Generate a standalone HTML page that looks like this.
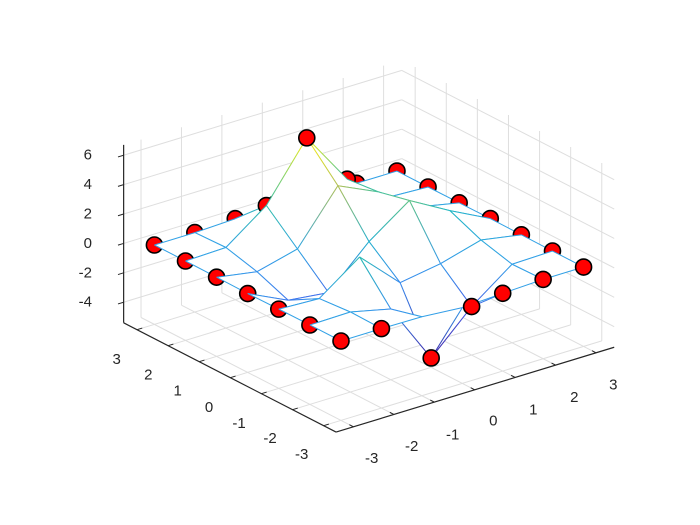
<!DOCTYPE html>
<html><head><meta charset="utf-8"><style>
html,body{margin:0;padding:0;background:#fff;}
svg{display:block;}
text{font-family:"Liberation Sans","DejaVu Sans",sans-serif;font-size:15px;fill:#262626;}
</style></head><body>
<svg id="s" width="700" height="525" viewBox="0 0 700 525" xmlns="http://www.w3.org/2000/svg">
<defs id="defs"></defs>
<rect width="700" height="525" fill="#fff"/>
<g id="grid"></g>
<g id="axes"></g>
<g id="mesh"></g>
<g id="labels">
<text x="371.7" y="458.3" text-anchor="middle" dominant-baseline="central">-3</text>
<text x="411.7" y="446.7" text-anchor="middle" dominant-baseline="central">-2</text>
<text x="452.7" y="435" text-anchor="middle" dominant-baseline="central">-1</text>
<text x="493.3" y="421" text-anchor="middle" dominant-baseline="central">0</text>
<text x="533.3" y="410" text-anchor="middle" dominant-baseline="central">1</text>
<text x="574.3" y="397.7" text-anchor="middle" dominant-baseline="central">2</text>
<text x="613.3" y="385" text-anchor="middle" dominant-baseline="central">3</text>
<text x="116.7" y="359.3" text-anchor="middle" dominant-baseline="central">3</text>
<text x="148.3" y="375" text-anchor="middle" dominant-baseline="central">2</text>
<text x="177.7" y="391" text-anchor="middle" dominant-baseline="central">1</text>
<text x="209" y="407.3" text-anchor="middle" dominant-baseline="central">0</text>
<text x="239" y="423.3" text-anchor="middle" dominant-baseline="central">-1</text>
<text x="270" y="438.3" text-anchor="middle" dominant-baseline="central">-2</text>
<text x="301.7" y="454.3" text-anchor="middle" dominant-baseline="central">-3</text>
<text x="92" y="155.2" text-anchor="end" dominant-baseline="central">6</text>
<text x="92" y="184.6" text-anchor="end" dominant-baseline="central">4</text>
<text x="92" y="214" text-anchor="end" dominant-baseline="central">2</text>
<text x="92" y="243.4" text-anchor="end" dominant-baseline="central">0</text>
<text x="92" y="272.8" text-anchor="end" dominant-baseline="central">-2</text>
<text x="92" y="302.2" text-anchor="end" dominant-baseline="central">-4</text>
</g>
</svg>
<script>
(function(){
var NS="http://www.w3.org/2000/svg";
function P(x,y,z){return [341+40.43*(x+3)-31.1*(y+3), 341-12.33*(x+3)-16*(y+3)-14.7*z];}
var xlo=-3.43,xhi=3.45,ylo=-3.4,yhi=3.43,zlo=-5.4,zhi=6.7;
function el(parent,tag,attrs){var e=document.createElementNS(NS,tag);for(var k in attrs)e.setAttribute(k,attrs[k]);parent.appendChild(e);return e;}
function line(g,a,b,col,w){el(g,"line",{x1:a[0].toFixed(2),y1:a[1].toFixed(2),x2:b[0].toFixed(2),y2:b[1].toFixed(2),stroke:col,"stroke-width":w});}
var defs=document.getElementById("defs"),grid=document.getElementById("grid"),axes=document.getElementById("axes"),mesh=document.getElementById("mesh");
var gc="#dedede";
for(var t=-3;t<=3;t++){
  line(grid,P(t,ylo,zlo),P(t,yhi,zlo),gc,1);
  line(grid,P(xlo,t,zlo),P(xhi,t,zlo),gc,1);
  line(grid,P(t,yhi,zlo),P(t,yhi,zhi),gc,1);
  line(grid,P(xhi,t,zlo),P(xhi,t,zhi),gc,1);
}
for(var z=-4;z<=6;z+=2){
  line(grid,P(xlo,yhi,z),P(xhi,yhi,z),gc,1);
  line(grid,P(xhi,ylo,z),P(xhi,yhi,z),gc,1);
}
var ac="#262626";
line(axes,P(xlo,ylo,zlo),P(xhi,ylo,zlo),ac,1.2);
line(axes,P(xlo,ylo,zlo),P(xlo,yhi,zlo),ac,1.2);
line(axes,P(xlo,yhi,zlo),P(xlo,yhi,zhi),ac,1.2);
for(var t=-3;t<=3;t++){
  line(axes,P(t,ylo,zlo),P(t,ylo+0.13,zlo),ac,1);
  line(axes,P(xlo,t,zlo),P(xlo+0.13,t,zlo),ac,1);
}
for(var z=-4;z<=6;z+=2){line(axes,P(xlo,yhi,z),P(xlo-0.14,yhi,z),ac,1);}
function peaks(x,y){return 3*(1-x)*(1-x)*Math.exp(-x*x-(y+1)*(y+1))-10*(x/5-x*x*x-Math.pow(y,5))*Math.exp(-x*x-y*y)-1/3*Math.exp(-(x+1)*(x+1)-y*y);}
var Z=[],zmin=1e9,zmax=-1e9;
for(var i=0;i<7;i++){Z[i]=[];for(var j=0;j<7;j++){var v=peaks(i-3,j-3);Z[i][j]=v;if(v<zmin)zmin=v;if(v>zmax)zmax=v;}}
var stops=[[0,[62,38,168]],[0.2,[75,80,225]],[0.35,[60,130,240]],[0.45,[50,162,230]],[0.6,[30,186,190]],[0.72,[90,195,140]],[0.85,[240,190,50]],[1,[249,240,20]]];
function cmap(v){var t=(v-zmin)/(zmax-zmin);t=Math.max(0,Math.min(1,t));
  for(var k=1;k<stops.length;k++){if(t<=stops[k][0]){var a=stops[k-1],b=stops[k],f=(t-a[0])/(b[0]-a[0]);
    return "rgb("+[0,1,2].map(function(c){return Math.round(a[1][c]+f*(b[1][c]-a[1][c]));}).join(",")+")";}}
  return "rgb(249,240,20)";}
var gid=0;
function gline(pa,pb,za,zb){
  var id="g"+(gid++);
  var lg=el(defs,"linearGradient",{id:id,gradientUnits:"userSpaceOnUse",x1:pa[0].toFixed(2),y1:pa[1].toFixed(2),x2:pb[0].toFixed(2),y2:pb[1].toFixed(2)});
  el(lg,"stop",{offset:"0","stop-color":cmap(za)});
  el(lg,"stop",{offset:"1","stop-color":cmap(zb)});
  var col=(Math.abs(pa[0]-pb[0])<0.01&&Math.abs(pa[1]-pb[1])<0.01)?cmap(za):"url(#"+id+")";
  line(mesh,pa,pb,col,1);
}
function depth(x,y,z){return 46.6*(0.61*x+0.79*y)-6.2*z;}
var items=[];
for(var i=0;i<6;i++)for(var j=0;j<6;j++){
  var vs=[[i,j],[i+1,j],[i+1,j+1],[i,j+1]];
  var d=0;vs.forEach(function(v){d+=depth(v[0]-3,v[1]-3,Z[v[0]][v[1]]);});
  items.push({t:"f",d:d/4,vs:vs});
}
var mk=[];
for(var i=0;i<7;i++)for(var j=0;j<7;j++){
  if(i==0||i==6||j==6||(j==0&&i!=2&&i!=3))mk.push([i,j]);}
mk.push([2,5]);mk.push([4,5]);
mk.forEach(function(m){items.push({t:"m",d:depth(m[0]-3,m[1]-3,Z[m[0]][m[1]])-0.5,m:m});});
items.sort(function(a,b){return b.d-a.d;});
function drawMarker(m){var p=P(m[0]-3,m[1]-3,Z[m[0]][m[1]]);el(mesh,"circle",{cx:p[0].toFixed(2),cy:p[1].toFixed(2),r:8,fill:"#ff0000",stroke:"#000","stroke-width":1.6});}
items.forEach(function(it){
  if(it.t=="f"){
    var pts=it.vs.map(function(v){return P(v[0]-3,v[1]-3,Z[v[0]][v[1]]);});
    el(mesh,"polygon",{points:pts.map(function(p){return p[0].toFixed(2)+","+p[1].toFixed(2);}).join(" "),fill:"#fff",stroke:"none"});
    for(var k=0;k<4;k++){var a=it.vs[k],b=it.vs[(k+1)%4];
      gline(pts[k],pts[(k+1)%4],Z[a[0]][a[1]],Z[b[0]][b[1]]);}
  } else drawMarker(it.m);
});
drawMarker([4,1]);
drawMarker([3,5]);drawMarker([3,1]);
})();
</script>
</body></html>
